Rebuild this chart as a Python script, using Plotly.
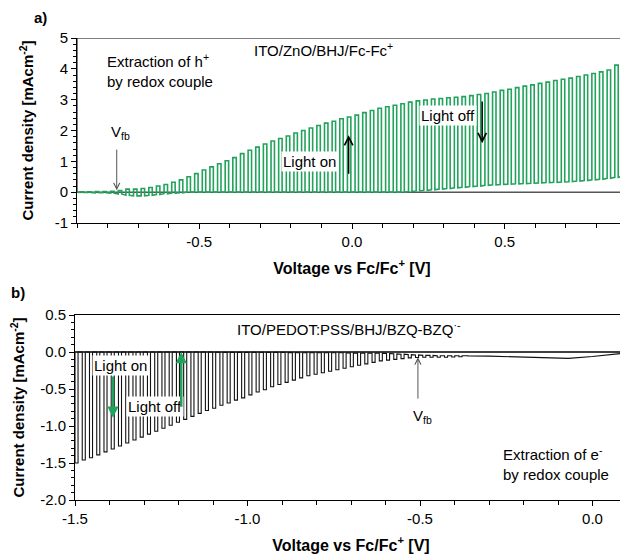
import plotly.graph_objects as go
from plotly.subplots import make_subplots

# ---------------- data: panel a) ITO/ZnO/BHJ/Fc-Fc+ ----------------
volt_start_a = -0.89          # V, first chopping cycle
chop_period_a = 0.025         # V per light on/off cycle
light_on_a = [0.01, 0.01, 0.02, 0.02, 0.03, 0.05, 0.10, 0.10, 0.12, 0.15,
              0.20, 0.25, 0.32, 0.40, 0.50, 0.60, 0.72, 0.82, 0.92, 1.02,
              1.12, 1.25, 1.36, 1.46, 1.56, 1.66, 1.74, 1.82, 1.92, 2.00,
              2.08, 2.16, 2.24, 2.30, 2.38, 2.44, 2.50, 2.58, 2.65, 2.72,
              2.77, 2.82, 2.87, 2.92, 2.96, 2.99, 3.02, 3.04, 3.06, 3.08,
              3.10, 3.13, 3.17, 3.20, 3.25, 3.30, 3.34, 3.39, 3.44, 3.48,
              3.53, 3.57, 3.62, 3.66, 3.70, 3.75, 3.80, 3.85, 3.90, 3.96,
              4.12, 4.38]
light_off_a = [-0.01, -0.01, -0.02, -0.02, -0.03, -0.06, -0.10, -0.12, -0.12, -0.10,
               -0.08, -0.05, -0.03, -0.02,
               0.0, 0.0, 0.0, 0.0, 0.0, 0.0, 0.0, 0.0, 0.0, 0.0,
               0.0, 0.0, 0.0, 0.0, 0.0, 0.0, 0.0, 0.0, 0.0, 0.0,
               0.0, 0.0, 0.0, 0.0, 0.0, 0.0, 0.0, 0.0, 0.0,
               0.02, 0.04, 0.06, 0.08, 0.10, 0.12, 0.14, 0.16, 0.18, 0.20,
               0.22, 0.24, 0.25, 0.26, 0.27, 0.28, 0.29, 0.30, 0.31, 0.32,
               0.33, 0.34, 0.36, 0.38, 0.40, 0.42, 0.45, 0.48, 0.52]

# ---------------- data: panel b) ITO/PEDOT:PSS/BHJ/BZQ-BZQ.- ----------------
volt_start_b = -1.5
chop_period_b = 0.021
light_on_b = [-1.50, -1.46, -1.43, -1.39, -1.35, -1.31, -1.27, -1.23, -1.19, -1.15,
              -1.11, -1.07, -1.03, -0.99, -0.95, -0.91, -0.87, -0.83, -0.79, -0.76,
              -0.72, -0.69, -0.65, -0.62, -0.58, -0.54, -0.51, -0.47, -0.44, -0.41,
              -0.38, -0.35, -0.32, -0.30, -0.28, -0.26, -0.24, -0.22, -0.20, -0.18,
              -0.16, -0.14, -0.12, -0.11, -0.10, -0.09, -0.08, -0.075, -0.07, -0.07,
              -0.07, -0.07, -0.068, -0.065]
light_off_b = [0.0] * 20 + [-0.005] * 10 + [-0.01] * 8 + [-0.015] * 5 + \
              [-0.02, -0.025, -0.03, -0.035, -0.04, -0.045, -0.045, -0.05, -0.05, -0.05, -0.05]
tail_volt_b = [-0.36, -0.30, -0.20, -0.10, -0.07, 0.0, 0.05, 0.10]
tail_curr_b = [-0.052, -0.056, -0.066, -0.080, -0.086, -0.060, -0.035, -0.012]

# axis ticks
xt_a = [-0.5, 0.0, 0.5]
xt_a_txt = ["-0.5", "0.0", "0.5"]
yt_a = [-1, 0, 1, 2, 3, 4, 5]
yt_a_txt = ["-1", "0", "1", "2", "3", "4", "5"]
xt_b = [-1.5, -1.0, -0.5, 0.0]
xt_b_txt = ["-1.5", "-1.0", "-0.5", "0.0"]
yt_b = [-2.0, -1.5, -1.0, -0.5, 0.0, 0.5]
yt_b_txt = ["-2.0", "-1.5", "-1.0", "-0.5", "0.0", "0.5"]


def chopped(v0, period, on_vals, off_vals, frac):
    xs, ys = [], []
    for i, (on, off) in enumerate(zip(on_vals, off_vals)):
        t = v0 + i * period
        t_off = t + frac * period
        xs += [t, t, t_off, t_off]
        ys += [off, on, on, off]
    xs.append(v0 + len(on_vals) * period)
    ys.append(off_vals[-1])
    return xs, ys


xa, ya = chopped(volt_start_a, chop_period_a, light_on_a, light_off_a, 0.45)
xa = [-0.9] + xa
ya = [0.0] + ya
xb, yb = chopped(volt_start_b, chop_period_b, light_on_b, light_off_b, 0.42)
xb += tail_volt_b
yb += tail_curr_b

# page body margin offsets the figure by 8 px
OFF = 8
W, H = 620, 546
ml, mr, mt, mb = 75 - OFF, 1, 38 - OFF, 54
ph = H - mt - mb
pw = W - ml - mr


def px_y(yw):
    """window y pixel -> paper fraction"""
    return (H - mb - (yw - OFF)) / ph


def px_x(xw):
    return ((xw - OFF) - ml) / pw


fig = make_subplots(rows=2, cols=1, vertical_spacing=0.0)
fig.add_trace(go.Scatter(x=xa, y=ya, mode="lines",
                         line=dict(color="#22a35c", width=1.6), showlegend=False,
                         hoverinfo="skip"), row=1, col=1)
fig.add_trace(go.Scatter(x=xb, y=yb, mode="lines",
                         line=dict(color="#111111", width=1.1), showlegend=False,
                         hoverinfo="skip"), row=2, col=1)

font_main = "Liberation Sans, Arial, sans-serif"
tickfont = dict(family=font_main, size=15, color="black")
xtitlefont = dict(family=font_main, size=16, color="black", weight="bold")
ytitlefont = dict(family=font_main, size=15, color="black", weight="bold")

common_axis = dict(showgrid=False, zeroline=False, showline=True, linecolor="black",
                   linewidth=1, ticks="outside", ticklen=5, tickcolor="black",
                   tickfont=tickfont, automargin=False)

fig.update_layout(
    width=W, height=H, margin=dict(l=ml, r=mr, t=mt, b=mb, autoexpand=False),
    plot_bgcolor="white", paper_bgcolor="white",
    font=dict(family=font_main, size=15, color="black"),
    xaxis=dict(**common_axis, range=[-0.9, 0.9], domain=[px_x(77), 1],
               tickvals=xt_a, ticktext=xt_a_txt,
               minor=dict(dtick=0.1, tick0=0, ticks="outside", ticklen=4, tickcolor="black"),
               title=dict(text="Voltage vs Fc/Fc<sup>+</sup> [V]", font=xtitlefont, standoff=13)),
    yaxis=dict(**common_axis, range=[-1, 5], domain=[px_y(223), 1],
               tickvals=yt_a, ticktext=yt_a_txt,
               minor=dict(dtick=0.2, tick0=0, ticks="outside", ticklen=3, tickcolor="black"),
               title=dict(text="Current density [mAcm<sup>-2</sup>]", font=ytitlefont, standoff=17)),
    xaxis2=dict(**common_axis, range=[-1.5, 0.1], domain=[0, 1], mirror=True,
                tickvals=xt_b, ticktext=xt_b_txt,
                minor=dict(dtick=0.1, tick0=0, ticks="outside", ticklen=4, tickcolor="black"),
                title=dict(text="Voltage vs Fc/Fc<sup>+</sup> [V]", font=xtitlefont, standoff=13)),
    yaxis2=dict(**common_axis, range=[-2.0, 0.5], domain=[0, px_y(315)], mirror=True,
                tickvals=yt_b, ticktext=yt_b_txt,
                minor=dict(dtick=0.1, tick0=0, ticks="outside", ticklen=3, tickcolor="black"),
                title=dict(text="Current density [mAcm<sup>-2</sup>]", font=ytitlefont, standoff=17)),
)

# frames
fig.add_shape(type="rect", xref="x", yref="y", x0=-0.9, x1=0.9, y0=0, y1=5,
              line=dict(color="black", width=1), layer="below")
fig.add_shape(type="line", xref="x2", yref="y2", x0=-1.5, x1=0.1, y0=0, y1=0,
              line=dict(color="black", width=1.3), layer="below")

txt = dict(family=font_main, size=15, color="black")
ann = []
# panel labels
ann.append(dict(text="<b>a)</b>", xref="paper", yref="paper", x=px_x(40), y=px_y(17),
                showarrow=False, font=txt, xanchor="center", yanchor="middle"))
ann.append(dict(text="<b>b)</b>", xref="paper", yref="paper", x=px_x(18), y=px_y(292),
                showarrow=False, font=txt, xanchor="center", yanchor="middle"))
# panel a texts
ann.append(dict(text="ITO/ZnO/BHJ/Fc-Fc<sup>+</sup>", xref="x", yref="y", x=-0.092, y=4.62,
                showarrow=False, font=txt))
ann.append(dict(text="Extraction of h<sup>+</sup><br>by redox couple", xref="x", yref="y",
                x=-0.81, y=3.94, xanchor="left", align="left", showarrow=False, font=txt))
ann.append(dict(text="V<sub>fb</sub>", xref="x", yref="y", x=-0.757, y=1.95, showarrow=False, font=txt))
ann.append(dict(text="", xref="x", yref="y", axref="x", ayref="y", x=-0.77, y=0.06, ax=-0.77, ay=1.43,
                showarrow=True, arrowhead=5, arrowsize=1.2, arrowwidth=1, arrowcolor="#555555"))
ann.append(dict(text="Light on", xref="x", yref="y", x=-0.138, y=1.0, showarrow=False, font=txt,
                bgcolor="white"))
ann.append(dict(text="", xref="x", yref="y", axref="x", ayref="y", x=-0.011, y=1.85, ax=-0.011, ay=0.55,
                showarrow=True, arrowhead=5, arrowsize=1.1, arrowwidth=1.5, arrowcolor="black"))
ann.append(dict(text="Light off", xref="x", yref="y", x=0.315, y=2.5, showarrow=False, font=txt,
                bgcolor="white"))
ann.append(dict(text="", xref="x", yref="y", axref="x", ayref="y", x=0.426, y=1.59, ax=0.426, ay=2.99,
                showarrow=True, arrowhead=5, arrowsize=1.1, arrowwidth=1.5, arrowcolor="black"))
# panel b texts
ann.append(dict(text="ITO/PEDOT:PSS/BHJ/BZQ-BZQ<sup>·-</sup>", xref="x2", yref="y2", x=-0.706, y=0.32,
                showarrow=False, font=txt))
ann.append(dict(text="Light on", xref="x2", yref="y2", x=-1.369, y=-0.176, showarrow=False, font=txt,
                bgcolor="white"))
ann.append(dict(text="", xref="x2", yref="y2", axref="x2", ayref="y2", x=-1.39, y=-0.89, ax=-1.39, ay=-0.31,
                showarrow=True, arrowhead=2, arrowsize=0.9, arrowwidth=2.5, arrowcolor="#22a35c"))
ann.append(dict(text="Light off", xref="x2", yref="y2", x=-1.267, y=-0.74, showarrow=False, font=txt,
                bgcolor="white"))
ann.append(dict(text="", xref="x2", yref="y2", axref="x2", ayref="y2", x=-1.192, y=0.0, ax=-1.192, ay=-0.76,
                showarrow=True, arrowhead=2, arrowsize=0.9, arrowwidth=2.5, arrowcolor="#22a35c"))
ann.append(dict(text="V<sub>fb</sub>", xref="x2", yref="y2", x=-0.494, y=-0.87, showarrow=False, font=txt))
ann.append(dict(text="", xref="x2", yref="y2", axref="x2", ayref="y2", x=-0.506, y=-0.07, ax=-0.506, ay=-0.65,
                showarrow=True, arrowhead=5, arrowsize=1.2, arrowwidth=1, arrowcolor="#555555"))
ann.append(dict(text="Extraction of e<sup>-</sup><br>by redox couple", xref="x2", yref="y2",
                x=-0.265, y=-1.5, xanchor="left", align="left", showarrow=False, font=txt))
fig.update_layout(annotations=ann)

fig.write_html("out.html")
